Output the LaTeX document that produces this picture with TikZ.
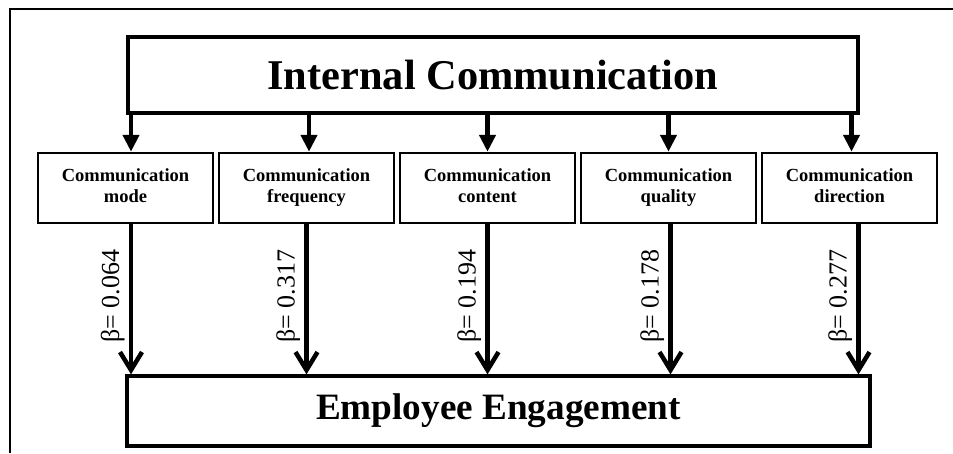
\documentclass[tikz,border=0pt]{standalone}
\usepackage{fontspec}
\setmainfont{Liberation Serif}
\usetikzlibrary{arrows.meta,positioning}

\begin{document}
\begin{tikzpicture}[x=1pt, y=-1pt,
    bigbox/.style={draw, line width=3.3pt, inner sep=0pt, font=\bfseries\fontsize{42.4}{50}\selectfont},
    smallbox/.style={draw, line width=2.5pt, minimum width=175pt, minimum height=70pt, inner sep=0pt, align=center, font=\bfseries\fontsize{18.5}{21}\selectfont},
    toparrow/.style={line width=4.5pt, -{Triangle[length=17pt, width=16pt]}},
    lowarrow/.style={line width=4.5pt, -{Straight Barb[length=18pt, width=22pt]}},
    beta/.style={rotate=90, anchor=south, inner sep=4pt, pos=0.48, font=\fontsize{26}{30}\selectfont}]
        \useasboundingbox (0,0) rectangle (953,453);
        \draw[line width=2.3pt] (10,453) -- (10,9) -- (953,9);
        \node [bigbox, minimum width=730pt, minimum height=76pt] (top) at (493,75) {Internal Communication};
        \node [smallbox] (mode) at (125.5,188) {Communication\strut\\mode\strut};
        \node [smallbox, right=3.5pt of mode] (frequency) {Communication\strut\\frequency\strut};
        \node [smallbox, right=3.5pt of frequency] (content) {Communication\strut\\content\strut};
        \node [smallbox, right=3.5pt of content] (quality) {Communication\strut\\quality\strut};
        \node [smallbox, right=3.5pt of quality] (direction) {Communication\strut\\direction\strut};
        \node [bigbox, minimum width=743pt, minimum height=70pt, font=\bfseries\fontsize{37.2}{44}\selectfont] (bottom) at (498.5,411) {Employee Engagement};

        \draw[toparrow] ([xshift=5.5]mode.north |- top.south) -- ([xshift=5.5]mode.north);
        \draw[toparrow] ([xshift=2.5]frequency.north |- top.south) -- ([xshift=2.5]frequency.north);
        \draw[toparrow] (content.north |- top.south) -- (content.north);
        \draw[toparrow] (quality.north |- top.south) -- (quality.north);
        \draw[toparrow] ([xshift=2]direction.north |- top.south) -- ([xshift=2]direction.north);

        \draw[lowarrow] ([xshift=5.5]mode.south) -- node[beta] {β= 0.064} ([xshift=5.5]mode.south |- bottom.north);
        \draw[lowarrow] (frequency.south) -- node[beta] {β= 0.317} (frequency.south |- bottom.north);
        \draw[lowarrow] (content.south) -- node[beta] {β= 0.194} (content.south |- bottom.north);
        \draw[lowarrow] ([xshift=2]quality.south) -- node[beta] {β= 0.178} ([xshift=2]quality.south |- bottom.north);
        \draw[lowarrow] ([xshift=9]direction.south) -- node[beta] {β= 0.277} ([xshift=9]direction.south |- bottom.north);
    \end{tikzpicture}
\end{document}
